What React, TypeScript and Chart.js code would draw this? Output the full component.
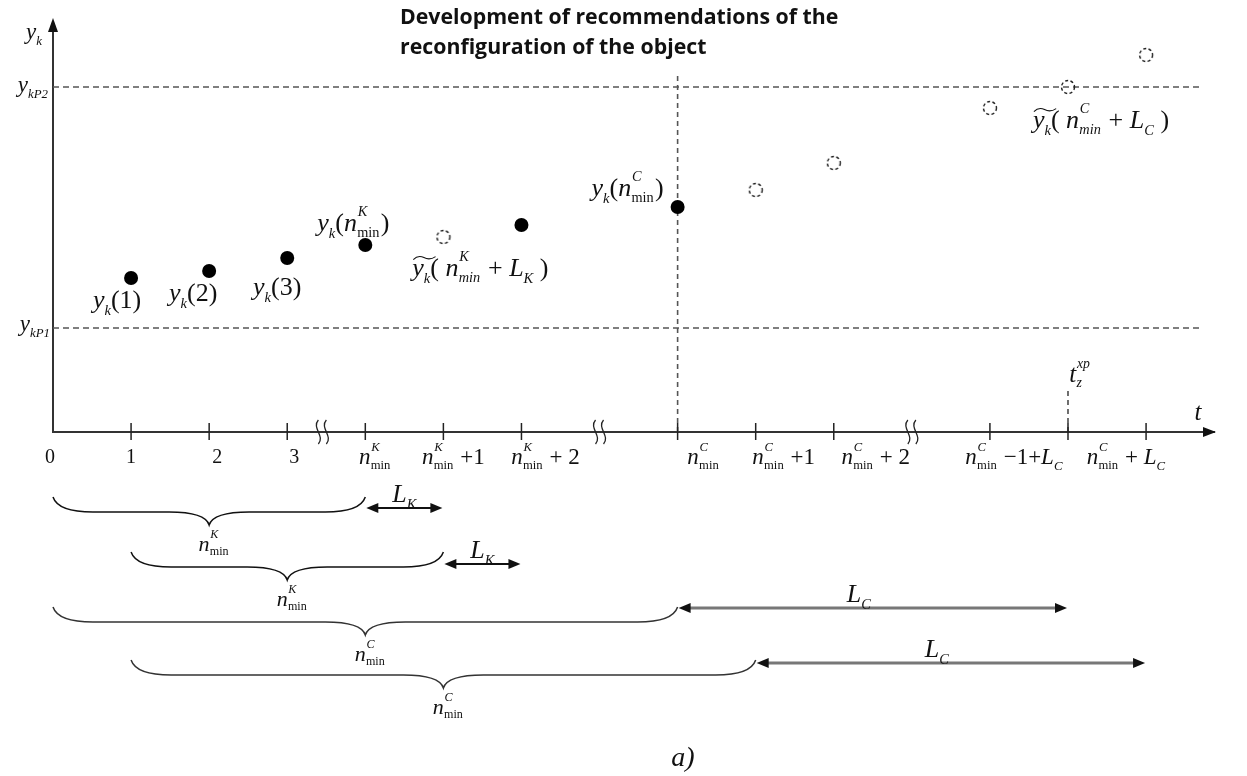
import React, { useEffect, useRef } from "react";
import { Chart, registerables } from "chart.js";
Chart.register(...registerables);

// ---------- data ----------
const titleLines = ["Development of recommendations of the", "reconfiguration of the object"];
const xTicks = [0, 1, 2, 3, 4, 5, 6, 8, 9, 10, 12, 13, 14];
const xTickLabels = [
  "0", "1", "2", "3",
  "*n*{^K|min}", "*n*{^K|min} +1", "*n*{^K|min} + 2",
  "*n*{^C|min}", "*n*{^C|min} +1", "*n*{^C|min} + 2",
  "*n*{^C|min} −1+*L*_{C}", "*n*{^C|min} + *L*_{C}", "",
];
const xBreaks = [3.45, 7.0, 11.0];
const observedX = [1, 2, 3, 4, 6, 8];
const observedY = [15.4, 16.1, 17.4, 18.7, 20.7, 22.5];
const forecastX = [5, 9, 10, 12, 13, 14];
const forecastY = [19.5, 24.2, 26.9, 32.4, 34.5, 37.7];
const ykP1 = 10.4;
const ykP2 = 34.5;
const thresholdEndX = 14.7;
const recoX = 8;
const recoTopY = 36;
const tzX = 13;
const tzTopY = 4.2;
const X_MAX = 14.87;
const Y_MAX = 41.0;

const pointLabelText = [
  "*y*_{k}(1)", "*y*_{k}(2)", "*y*_{k}(3)", "*y*_{k}(*n*{^K|min})",
  "~*y*_{k}( *n*{^K|*min} + *L*_{K} )", "*y*_{k}(*n*{^C|min})", "~*y*_{k}( *n*{^C|*min} + *L*_{C} )",
];
const pointLabelAnchorX = [1, 2, 3, 4, 5, 8, 13];
const pointLabelAnchorY = [15.4, 16.1, 17.4, 18.7, 19.5, 22.5, 34.5];

const braceFrom = [0, 1, 0, 1];
const braceTo = [4, 5, 8, 9];
const braceLabels = ["*n*{^K|min}", "*n*{^K|min}", "*n*{^C|min}", "*n*{^C|min}"];
const spanFrom = [4, 5, 8, 9];
const spanTo = [5, 6, 13, 14];
const spanLabels = ["*L*_{K}", "*L*_{K}", "*L*_{C}", "*L*_{C}"];

// ---------- layout / style (not data) ----------
const SERIF = '"Liberation Serif", "Times New Roman", serif';
const tickLabelDx = [-3, 0, 8, 7, 10, 10, 24, 26, 28, 42, 24, 58, 0];
const pointLabelDx = [-14, -16, -10, -12, 37, -50, 33];
const pointLabelDy = [22, 22, 29, -22, 31, -19, 33];
const braceTopY = [497, 552, 607, 660];
const spanArrowY = [508, 564, 608, 663];

type Run =
  | { kind: "t"; text: string; it: boolean; sc: number; dy: number; tilde?: boolean }
  | { kind: "s"; sup: string; sub: string; subIt: boolean };

function parse(s: string): Run[] {
  const runs: Run[] = [];
  let it = false;
  let buf = "";
  let tilde = false;
  const flush = () => {
    if (buf) {
      runs.push({ kind: "t", text: buf, it, sc: 1, dy: 0 });
      buf = "";
    }
  };
  let i = 0;
  while (i < s.length) {
    const c = s[i];
    if (c === "*") { flush(); it = !it; i++; continue; }
    if (c === "~") { flush(); tilde = true; i++; continue; }
    if (c === "{" && s[i + 1] === "^") {
      flush();
      const bar = s.indexOf("|", i);
      const end = s.indexOf("}", i);
      let sub = s.slice(bar + 1, end);
      let subIt = false;
      if (sub.startsWith("*")) { subIt = true; sub = sub.slice(1); }
      runs.push({ kind: "s", sup: s.slice(i + 2, bar), sub, subIt });
      i = end + 1;
      continue;
    }
    if (c === "_" && s[i + 1] === "{") {
      flush();
      const end = s.indexOf("}", i);
      runs.push({ kind: "t", text: s.slice(i + 2, end), it: true, sc: 0.56, dy: 0.24 });
      i = end + 1;
      continue;
    }
    if (tilde) {
      flush();
      runs.push({ kind: "t", text: c, it, sc: 1, dy: 0, tilde: true });
      tilde = false;
      i++;
      continue;
    }
    buf += c;
    i++;
  }
  flush();
  return runs;
}

function drawRich(
  ctx: CanvasRenderingContext2D, s: string, x: number, y: number, size: number,
  align: "left" | "center" | "right" = "center", color = "#111"
) {
  if (!s) return;
  const runs = parse(s);
  const font = (it: boolean, px: number) => `${it ? "italic " : ""}${px}px ${SERIF}`;
  const ss = 0.55;
  const widths = runs.map((r) => {
    if (r.kind === "t") { ctx.font = font(r.it, size * r.sc); return ctx.measureText(r.text).width; }
    ctx.font = font(true, size * ss);
    const a = ctx.measureText(r.sup).width;
    ctx.font = font(r.subIt, size * ss);
    const b = ctx.measureText(r.sub).width;
    return Math.max(a, b) + size * 0.06;
  });
  const total = widths.reduce((a, b) => a + b, 0);
  let cx = align === "left" ? x : align === "center" ? x - total / 2 : x - total;
  const base = y + size * 0.32;
  ctx.save();
  ctx.fillStyle = color;
  ctx.strokeStyle = color;
  ctx.textBaseline = "alphabetic";
  ctx.textAlign = "left";
  runs.forEach((r, i) => {
    if (r.kind === "t") {
      ctx.font = font(r.it, size * r.sc);
      ctx.fillText(r.text, cx, base + r.dy * size);
      if (r.tilde) {
        const w = widths[i] + size * 0.45;
        const ty = base - size * 0.72;
        ctx.lineWidth = 1.1;
        ctx.beginPath();
        ctx.moveTo(cx + 1, ty + 2);
        ctx.quadraticCurveTo(cx + w * 0.25, ty - 3, cx + w * 0.5, ty);
        ctx.quadraticCurveTo(cx + w * 0.75, ty + 3, cx + w, ty - 1);
        ctx.stroke();
      }
    } else {
      ctx.font = font(true, size * ss);
      ctx.fillText(r.sup, cx + size * 0.03, base - size * 0.58);
      ctx.font = font(r.subIt, size * ss);
      ctx.fillText(r.sub, cx + size * 0.01, base + size * 0.2);
    }
    cx += widths[i];
  });
  ctx.restore();
}

function drawBrace(ctx: CanvasRenderingContext2D, x0: number, x1: number, y0: number) {
  const h = 15, cusp = 28, r = 40;
  const xm = (x0 + x1) / 2;
  ctx.beginPath();
  ctx.moveTo(x0, y0);
  ctx.quadraticCurveTo(x0 + 5, y0 + h, x0 + r, y0 + h);
  ctx.lineTo(xm - r, y0 + h);
  ctx.quadraticCurveTo(xm - 4, y0 + h, xm, y0 + cusp);
  ctx.quadraticCurveTo(xm + 4, y0 + h, xm + r, y0 + h);
  ctx.lineTo(x1 - r, y0 + h);
  ctx.quadraticCurveTo(x1 - 5, y0 + h, x1, y0);
  ctx.stroke();
}

function arrowHead(ctx: CanvasRenderingContext2D, x: number, y: number, dir: number, len = 12, half = 5) {
  ctx.beginPath();
  ctx.moveTo(x, y);
  ctx.lineTo(x - dir * len, y - half);
  ctx.lineTo(x - dir * len, y + half);
  ctx.closePath();
  ctx.fill();
}

function dashedCircle(): HTMLCanvasElement {
  const c = document.createElement("canvas");
  c.width = 18;
  c.height = 18;
  const g = c.getContext("2d")!;
  g.setLineDash([3, 2.4]);
  g.lineWidth = 1.4;
  g.strokeStyle = "#222";
  g.beginPath();
  g.arc(9, 9, 6.5, 0, Math.PI * 2);
  g.stroke();
  return c;
}

const diagramPlugin = {
  id: "diagram",
  afterDraw(chart: any) {
    const ctx: CanvasRenderingContext2D = chart.ctx;
    const xs = chart.scales.x;
    const ys = chart.scales.y;
    const area = chart.chartArea;
    const px = (v: number) => xs.getPixelForValue(v);
    const py = (v: number) => ys.getPixelForValue(v);
    const axisY = py(0);
    const axisX = px(0);
    ctx.save();

    // title
    ctx.fillStyle = "#111";
    ctx.font = 'bold 21.3px "Open Sans", sans-serif';
    ctx.textBaseline = "middle";
    ctx.textAlign = "left";
    titleLines.forEach((t, i) => ctx.fillText(t, 400, 18 + i * 30));

    // axis arrows
    ctx.fillStyle = "#111";
    ctx.beginPath();
    ctx.moveTo(axisX, area.top - 4);
    ctx.lineTo(axisX - 5, area.top + 10);
    ctx.lineTo(axisX + 5, area.top + 10);
    ctx.closePath();
    ctx.fill();
    arrowHead(ctx, area.right + 2, axisY, 1, 13, 5);

    // tick marks
    ctx.strokeStyle = "#222";
    ctx.lineWidth = 1.5;
    xTicks.forEach((v) => {
      if (v === 0) return;
      ctx.beginPath();
      ctx.moveTo(px(v), axisY - 9);
      ctx.lineTo(px(v), axisY + 8);
      ctx.stroke();
    });

    // breaks
    ctx.lineWidth = 1.3;
    xBreaks.forEach((v) => {
      const bx = px(v);
      [-4, 4].forEach((o) => {
        ctx.beginPath();
        ctx.moveTo(bx + o, axisY - 12);
        ctx.bezierCurveTo(bx + o - 7, axisY - 4, bx + o + 7, axisY + 4, bx + o, axisY + 12);
        ctx.stroke();
      });
    });

    // tick labels
    xTicks.forEach((v, i) => {
      const lab = xTickLabels[i];
      drawRich(ctx, lab, px(v) + tickLabelDx[i], axisY + 25, lab.startsWith("*") ? 23 : 20, "center");
    });

    // axis labels
    drawRich(ctx, "*y*_{k}", axisX - 19, 32, 23, "center");
    drawRich(ctx, "*y*_{kP2}", axisX - 5, py(ykP2) - 2, 23, "right");
    drawRich(ctx, "*y*_{kP1}", axisX - 3, py(ykP1) - 4, 23, "right");
    drawRich(ctx, "*t*", area.right - 16, axisY - 20, 25, "center");
    drawRich(ctx, "*t*{^xp|*z}", px(tzX) + 12, axisY - 58, 25, "center");

    // point labels
    pointLabelText.forEach((t, i) => {
      drawRich(ctx, t, px(pointLabelAnchorX[i]) + pointLabelDx[i], py(pointLabelAnchorY[i]) + pointLabelDy[i], 26, "center");
    });

    // braces
    braceFrom.forEach((f, i) => {
      ctx.strokeStyle = i < 2 ? "#111" : "#333";
      ctx.lineWidth = 1.5;
      const x0 = px(f), x1 = px(braceTo[i]);
      drawBrace(ctx, x0, x1, braceTopY[i]);
      drawRich(ctx, braceLabels[i], (x0 + x1) / 2 + 5, braceTopY[i] + 47, 22, "center");
    });

    // span arrows
    spanFrom.forEach((f, i) => {
      const x0 = px(f) + 1, x1 = px(spanTo[i]) - 1;
      const y = spanArrowY[i];
      const isC = i >= 2;
      ctx.strokeStyle = isC ? "#777" : "#111";
      ctx.lineWidth = isC ? 3 : 2;
      ctx.beginPath();
      ctx.moveTo(x0 + 6, y);
      ctx.lineTo(x1 - 6, y);
      ctx.stroke();
      ctx.fillStyle = "#111";
      arrowHead(ctx, x0, y, -1, 12, 5);
      arrowHead(ctx, x1, y, 1, 12, 5);
      drawRich(ctx, spanLabels[i], (x0 + x1) / 2 - (isC ? 14 : 0), y - 14, 26, "center");
    });

    // caption
    drawRich(ctx, "*a)*", 683, 757, 28, "center");
    ctx.restore();
  },
};

export default function App() {
  const ref = useRef<HTMLCanvasElement>(null);
  useEffect(() => {
    const canvas = ref.current!;
    const circle = dashedCircle();
    const chart = new Chart(canvas, {
      type: "scatter",
      data: {
        datasets: [
          {
            label: "observed",
            data: observedX.map((x, i) => ({ x, y: observedY[i] })),
            pointRadius: 7,
            pointBackgroundColor: "#000",
            pointBorderColor: "#000",
            pointBorderWidth: 0,
            showLine: false,
            clip: false,
          } as any,
          {
            label: "forecast",
            data: forecastX.map((x, i) => ({ x, y: forecastY[i] })),
            pointStyle: circle,
            pointRadius: 9,
            showLine: false,
            clip: false,
          } as any,
          {
            label: "ykP2",
            data: [{ x: 0, y: ykP2 }, { x: thresholdEndX, y: ykP2 }],
            showLine: true,
            borderColor: "#555",
            borderWidth: 1.6,
            borderDash: [6, 4],
            pointRadius: 0,
          } as any,
          {
            label: "ykP1",
            data: [{ x: 0, y: ykP1 }, { x: thresholdEndX, y: ykP1 }],
            showLine: true,
            borderColor: "#555",
            borderWidth: 1.6,
            borderDash: [6, 4],
            pointRadius: 0,
          } as any,
          {
            label: "reco",
            data: [{ x: recoX, y: 0 }, { x: recoX, y: recoTopY }],
            showLine: true,
            borderColor: "#555",
            borderWidth: 1.6,
            borderDash: [5, 4],
            pointRadius: 0,
          } as any,
          {
            label: "tz",
            data: [{ x: tzX, y: 0 }, { x: tzX, y: tzTopY }],
            showLine: true,
            borderColor: "#222",
            borderWidth: 1.3,
            borderDash: [5, 4],
            pointRadius: 0,
          } as any,
        ],
      },
      options: {
        responsive: false,
        devicePixelRatio: 1,
        animation: false,
        events: [],
        layout: { padding: { left: 53, top: 22, right: 33, bottom: 344 } },
        plugins: { legend: { display: false }, tooltip: { enabled: false }, title: { display: false } },
        scales: {
          x: {
            type: "linear",
            min: 0,
            max: X_MAX,
            grid: { display: false },
            ticks: { display: false },
            border: { display: true, color: "#333", width: 2 },
            afterFit: (s: any) => { s.height = 0; },
          },
          y: {
            type: "linear",
            min: 0,
            max: Y_MAX,
            grid: { display: false },
            ticks: { display: false },
            border: { display: true, color: "#333", width: 2 },
            afterFit: (s: any) => { s.width = 0; },
          },
        },
      } as any,
      plugins: [diagramPlugin],
    });
    return () => chart.destroy();
  }, []);
  return (
    <div style={{ position: "absolute", left: 0, top: 0, width: 1247, height: 776, background: "#fff" }}>
      <canvas ref={ref} width={1247} height={776} style={{ display: "block", width: 1247, height: 776 }} />
    </div>
  );
}
